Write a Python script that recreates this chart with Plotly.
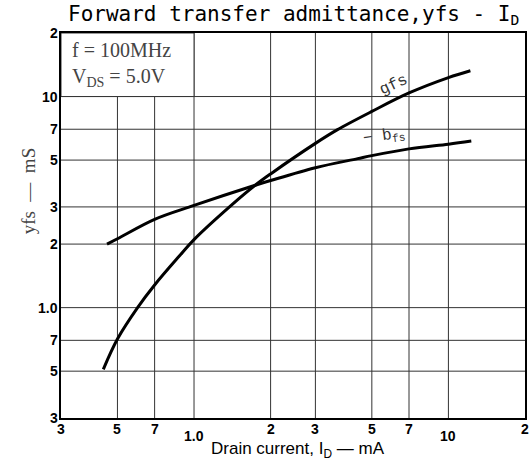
import math
import plotly.graph_objects as go

# ---- data ----
gfs_id = [0.44, 0.5, 0.6, 0.7, 0.87, 1.0, 1.4, 1.74, 2.0, 3.0, 3.65, 5.0, 7.0, 10.0, 12.2]
gfs_val = [0.51, 0.71, 1.0, 1.28, 1.74, 2.1, 3.05, 3.8, 4.3, 6.0, 6.95, 8.5, 10.4, 12.3, 13.25]
bfs_id = [0.455, 0.5, 0.7, 1.0, 1.74, 2.0, 3.0, 4.4, 5.0, 7.0, 10.0, 12.3]
bfs_val = [2.0, 2.12, 2.62, 3.05, 3.8, 4.0, 4.6, 5.08, 5.25, 5.65, 5.95, 6.15]

grid_vals = [0.5, 0.7, 1, 2, 3, 5, 7, 10]
x_tick_vals = [0.3, 0.5, 0.7, 1, 2, 3, 5, 7, 10, 20]
x_tick_text = ["3", "5", "7", "1.0", "2", "3", "5", "7", "10", "2"]
y_tick_vals = [0.3, 0.5, 0.7, 1, 2, 3, 5, 7, 10, 20]
y_tick_text = ["3", "5", "7", "1.0", "2", "3", "5", "7", "10", "2"]

X_RANGE = [0.3, 20]
Y_RANGE = [0.3, 20]
L = math.log10

fig = go.Figure()
fig.add_trace(go.Scatter(x=gfs_id, y=gfs_val, mode="lines", line=dict(color="black", width=3, shape="spline"),
                         showlegend=False, hoverinfo="skip"))
fig.add_trace(go.Scatter(x=bfs_id, y=bfs_val, mode="lines", line=dict(color="black", width=3, shape="spline"),
                         showlegend=False, hoverinfo="skip"))

annotations = []
tick_font = dict(family="Liberation Sans, Arial, sans-serif", size=14, color="black", weight="bold")
x_lower = {"1.0": 7, "10": 7}
for v, t in zip(x_tick_vals, x_tick_text):
    annotations.append(dict(x=L(v), y=0, xref="x", yref="paper", text=t, showarrow=False,
                            xanchor="center", yanchor="top", yshift=-1 - x_lower.get(t, 0), font=tick_font))
for v, t in zip(y_tick_vals, y_tick_text):
    annotations.append(dict(x=0, y=L(v), xref="paper", yref="y", text=t, showarrow=False,
                            xanchor="right", yanchor="middle", xshift=-1, font=tick_font))

# title
annotations.append(dict(x=0.01, y=1.047, xref="paper", yref="paper", xanchor="left", yanchor="middle",
                        text="Forward transfer admittance,yfs - I<sub>D</sub>", showarrow=False,
                        font=dict(family="DejaVu Sans Mono, monospace", size=21, color="black")))
# axis titles
annotations.append(dict(x=0.51, y=-0.084, xref="paper", yref="paper", xanchor="center", yanchor="middle",
                        text="Drain current, I<sub>D</sub> — mA", showarrow=False,
                        font=dict(family="Liberation Sans, Arial, sans-serif", size=17, color="black")))
annotations.append(dict(x=-0.07, y=0.59, xref="paper", yref="paper", xanchor="center", yanchor="middle",
                        text="yfs\u00a0\u00a0—\u00a0\u00a0mS", showarrow=False, textangle=-90,
                        font=dict(family="Liberation Serif, serif", size=19, color="#444")))
# condition box text
box_font = dict(family="Liberation Serif, serif", size=20, color="#444")
annotations.append(dict(x=L(0.325), y=L(16.6), xref="x", yref="y", xanchor="left",
                        yanchor="middle", text="f\u00a0=\u00a0100MHz", showarrow=False, font=box_font))
annotations.append(dict(x=L(0.325), y=L(12.3), xref="x", yref="y", xanchor="left",
                        yanchor="middle", text="V<sub>DS</sub>\u00a0=\u00a05.0V", showarrow=False, font=box_font))
# curve labels
lab_font = dict(family="Liberation Mono, monospace", size=16, color="#333")
annotations.append(dict(x=L(6.1), y=L(11.4), xref="x", yref="y", text="gfs",
                        showarrow=False, textangle=-25, font=lab_font))
annotations.append(dict(x=L(5.6), y=L(6.45), xref="x", yref="y", text="−\u00a0b<sub>fs</sub>",
                        showarrow=False, textangle=-8, font=lab_font))

# grid lines (shape coordinates on log axes are data values here) + white condition box
grid_line = dict(color="#333", width=1)
shapes = []
for v in grid_vals:
    shapes.append(dict(type="line", xref="x", yref="paper", x0=v, x1=v, y0=0, y1=1,
                       line=grid_line, layer="below"))
    shapes.append(dict(type="line", xref="paper", yref="y", x0=0, x1=1, y0=v, y1=v,
                       line=grid_line, layer="below"))
shapes.append(dict(type="rect", xref="x", yref="y", x0=X_RANGE[0], x1=1.0,
                   y0=10, y1=Y_RANGE[1], fillcolor="white",
                   line=dict(color="#333", width=1), layer="below"))

axis_common = dict(type="log", showgrid=False, showticklabels=False, ticks="", showline=True,
                   linecolor="black", linewidth=2, mirror=True, zeroline=False)
fig.update_layout(
    width=531, height=461,
    margin=dict(l=61, r=4, t=33, b=43),
    paper_bgcolor="white", plot_bgcolor="white",
    xaxis=dict(range=[L(X_RANGE[0]), L(X_RANGE[1])], **axis_common),
    yaxis=dict(range=[L(Y_RANGE[0]), L(Y_RANGE[1])], **axis_common),
    annotations=annotations, shapes=shapes,
)
fig.write_html("out.html", config={"displayModeBar": False},
               post_script="document.body.style.margin='0';document.body.style.overflow='hidden';")
